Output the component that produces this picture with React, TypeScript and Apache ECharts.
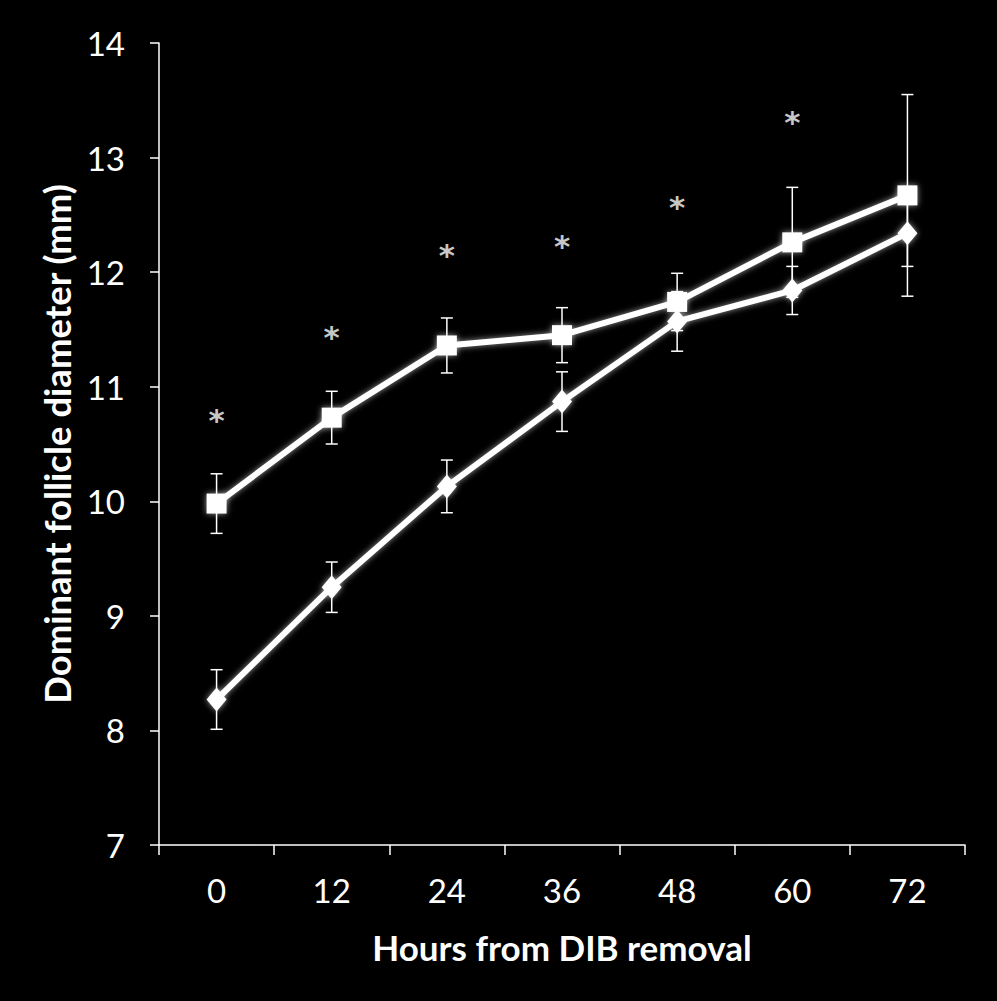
import React, { useEffect, useRef } from "react";
import * as echarts from "echarts";

const hours = ["0", "12", "24", "36", "48", "60", "72"];
const squareMean = [9.98, 10.73, 11.36, 11.45, 11.74, 12.26, 12.67];
const squareErr = [0.26, 0.23, 0.24, 0.24, 0.25, 0.48, 0.88];
const diamondMean = [8.27, 9.25, 10.13, 10.87, 11.57, 11.84, 12.34];
const diamondErr = [0.26, 0.22, 0.23, 0.26, 0.26, 0.21, 0.29];
const starY = [10.78, 11.5, 12.22, 12.3, 12.64, 13.38];
const yTicks = { min: 7, max: 14, interval: 1 };

const FONT = "Lato, 'Open Sans', sans-serif";

function errorSeries(means: number[], errs: number[]) {
  return {
    type: "custom",
    z: 1,
    silent: true,
    data: means.map((m, i) => [i, m - errs[i], m + errs[i]]),
    renderItem: (params: any, api: any) => {
      const x = api.value(0);
      const lo = api.coord([x, api.value(1)]);
      const hi = api.coord([x, api.value(2)]);
      const cap = 6;
      const style = { stroke: "#fff", lineWidth: 1.5 };
      return {
        type: "group",
        children: [
          { type: "line", shape: { x1: lo[0], y1: lo[1], x2: hi[0], y2: hi[1] }, style },
          { type: "line", shape: { x1: lo[0] - cap, y1: lo[1], x2: lo[0] + cap, y2: lo[1] }, style },
          { type: "line", shape: { x1: hi[0] - cap, y1: hi[1], x2: hi[0] + cap, y2: hi[1] }, style },
        ],
      };
    },
  };
}

export default function App() {
  const ref = useRef<HTMLDivElement>(null);
  useEffect(() => {
    const chart = echarts.init(ref.current!, null, { renderer: "svg" });
    const glow = { shadowBlur: 6, shadowColor: "rgba(255,255,255,0.6)" };
    chart.setOption({
      animation: false,
      backgroundColor: "#000",
      grid: { left: 159, top: 43, right: 32, bottom: 156 },
      xAxis: {
        type: "category",
        data: hours,
        boundaryGap: true,
        axisLine: { lineStyle: { color: "#fff", width: 1.5 } },
        axisTick: { show: true, length: 10, lineStyle: { color: "#fff", width: 1.5 } },
        axisLabel: { color: "#fff", fontSize: 33, fontFamily: FONT, margin: 28 },
        name: "Hours from DIB removal",
        nameLocation: "middle",
        nameGap: 84,
        nameTextStyle: { color: "#fff", fontSize: 35, fontWeight: "bold", fontFamily: FONT },
      },
      yAxis: {
        type: "value",
        min: yTicks.min,
        max: yTicks.max,
        interval: yTicks.interval,
        splitLine: { show: false },
        axisLine: { show: true, lineStyle: { color: "#fff", width: 1.5 } },
        axisTick: { show: true, length: 9, lineStyle: { color: "#fff", width: 1.5 } },
        axisLabel: { color: "#fff", fontSize: 33, fontFamily: FONT, margin: 34 },
        name: "Dominant follicle diameter (mm)",
        nameLocation: "middle",
        nameGap: 83,
        nameTextStyle: { color: "#fff", fontSize: 36.5, fontWeight: "bold", fontFamily: FONT },
      },
      series: [
        errorSeries(squareMean, squareErr),
        errorSeries(diamondMean, diamondErr),
        {
          type: "line",
          z: 3,
          data: squareMean,
          symbol: "rect",
          symbolSize: 20,
          lineStyle: { color: "#fff", width: 6, ...glow },
          itemStyle: { color: "#fff", ...glow },
        },
        {
          type: "line",
          z: 3,
          data: diamondMean,
          symbol: "diamond",
          symbolSize: [20, 24],
          lineStyle: { color: "#fff", width: 6, ...glow },
          itemStyle: { color: "#fff", ...glow },
        },
        {
          type: "scatter",
          z: 4,
          symbolSize: 1,
          silent: true,
          itemStyle: { color: "rgba(0,0,0,0)" },
          data: starY.map((v, i) => [i, v]),
          label: {
            show: true,
            position: "inside",
            formatter: "*",
            color: "#ffffff",
            textBorderWidth: 0,
            textBorderColor: "transparent",
            fontSize: 31,
            fontWeight: "bold",
            fontFamily: "'DejaVu Sans', sans-serif",
            offset: [0, 8],
          },
        },
      ],
    });
    return () => chart.dispose();
  }, []);
  return (
    <div
      ref={ref}
      style={{ position: "fixed", left: 0, top: 0, width: 997, height: 1001, background: "#000" }}
    />
  );
}
